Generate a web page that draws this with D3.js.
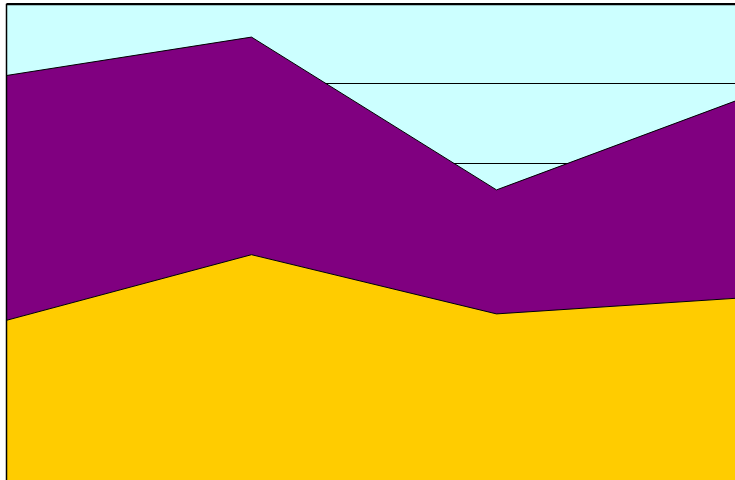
<!DOCTYPE html>
<html><head><meta charset="utf-8">
<script src="https://cdn.jsdelivr.net/npm/d3@7"></script>
<style>html,body{margin:0;padding:0;background:#fff;overflow:hidden}svg{display:block}</style>
</head><body>
<script>
const categories = ["A", "B", "C", "D"];
const seriesNames = ["Series1", "Series2"];
const series1 = [20.4, 28.6, 21.2, 23.2];
const series2 = [30.6, 27.2, 15.5, 24.9];
const yTicks = [0, 10, 20, 30, 40, 50, 60];
const colors = ["#FFCC00", "#800080"];

const W = 735, H = 480;
const svg = d3.select("body").append("svg").attr("width", W).attr("height", H);

const x = d3.scalePoint().domain(categories).range([6.5, 741.5]);
const y = d3.scaleLinear().domain([0, 60]).range([483.5, 3.5]);

const rows = categories.map((c, i) => ({cat: c, Series1: series1[i], Series2: series2[i]}));
const stacked = d3.stack().keys(seriesNames)(rows);

// plot background
svg.append("rect").attr("x", 6.5).attr("y", 4.5).attr("width", 760).attr("height", 520)
  .attr("fill", "#CCFFFF");

// gridlines
svg.append("g").selectAll("line").data(yTicks).join("line")
  .attr("x1", 6.5).attr("x2", 760)
  .attr("y1", d => y(d)).attr("y2", d => y(d))
  .attr("stroke", "#000").attr("stroke-width", 1);

const area = d3.area().x((d, i) => x(categories[i])).y0(d => y(d[0])).y1(d => y(d[1]));
svg.append("g").selectAll("path").data(stacked).join("path")
  .attr("d", area)
  .attr("fill", (d, i) => colors[i])
  .attr("stroke", "none");

const line = d3.line().x((d, i) => x(categories[i])).y(d => y(d[1]));
svg.append("g").selectAll("path").data(stacked).join("path")
  .attr("d", line)
  .attr("fill", "none").attr("stroke", "#000").attr("stroke-width", 1);

// plot border
svg.append("rect").attr("x", 6.5).attr("y", 4.5).attr("width", 760).attr("height", 520)
  .attr("fill", "none").attr("stroke", "#000").attr("stroke-width", 1.5);
</script>
</body></html>
